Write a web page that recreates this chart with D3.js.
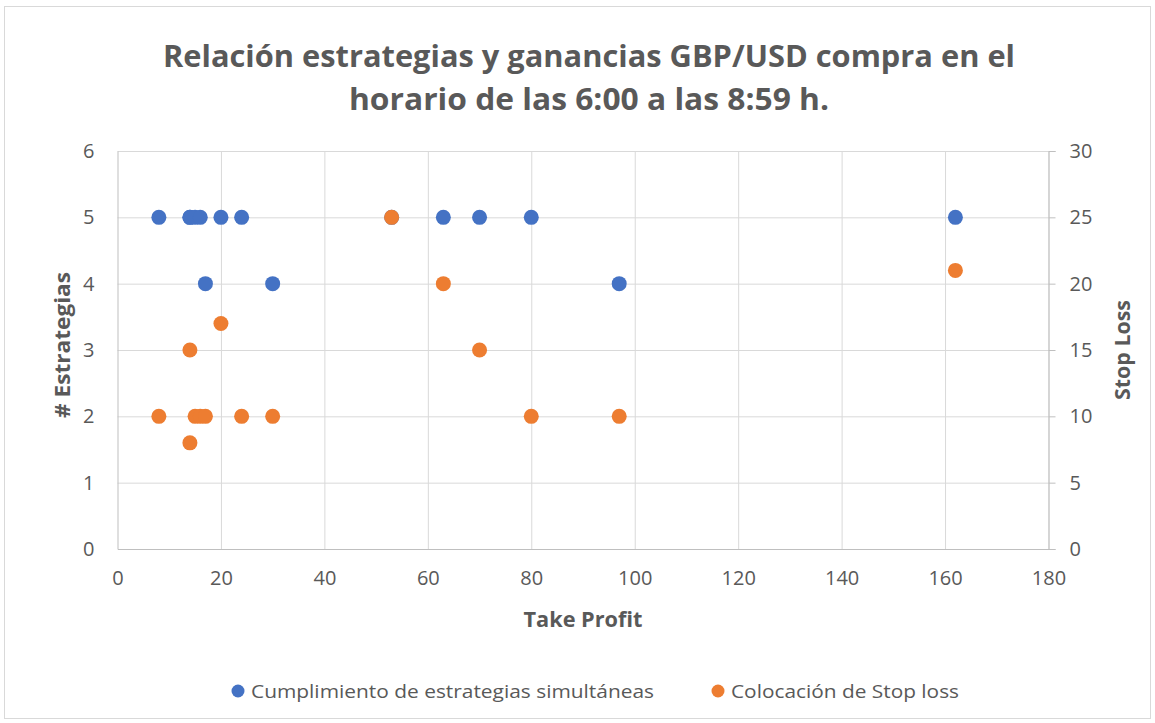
<!DOCTYPE html>
<html>
<head>
<meta charset="utf-8">
<script src="https://cdn.jsdelivr.net/npm/d3@7"></script>
<style>
  body { margin: 0; background: #fff; }
  text { font-family: "Open Sans", sans-serif; fill: #595959; }
</style>
</head>
<body>
<svg id="svg-board" width="1155" height="723"></svg>
<script>
// datos
const takeProfit  = [8, 14, 14, 15, 16, 17, 20, 24, 30, 53, 63, 70, 80, 97, 162];
const estrategias = [5, 5, 5, 5, 5, 4, 5, 5, 4, 5, 5, 5, 5, 4, 5];
const stopLoss    = [10, 15, 8, 10, 10, 10, 17, 10, 10, 25, 20, 15, 10, 10, 21];

const xTicks = [0, 20, 40, 60, 80, 100, 120, 140, 160, 180];
const yLeftTicks = [0, 1, 2, 3, 4, 5, 6];
const yRightTicks = [0, 5, 10, 15, 20, 25, 30];

const titleLines = ["Relación estrategias y ganancias GBP/USD compra en el",
                    "horario de las 6:00 a las 8:59 h."];
const seriesNames = ["Cumplimiento de estrategias simultáneas", "Colocación de Stop loss"];
const seriesColors = ["#4472C4", "#ED7D31"];

let svgBoard = d3.select("#svg-board");

const plotLeft = 117.5, plotRight = 1048.5, plotTop = 151, plotBottom = 549;

let xScale = d3.scaleLinear().domain([0, 180]).range([plotLeft, plotRight]);
let yLeft = d3.scaleLinear().domain([0, 6]).range([plotBottom, plotTop]);
let yRight = d3.scaleLinear().domain([0, 30]).range([plotBottom, plotTop]);

// marco del grafico
svgBoard.append("rect")
    .attr("x", 4.5).attr("y", 6.5)
    .attr("width", 1146).attr("height", 712)
    .attr("fill", "none")
    .attr("stroke", "#d9d9d9");

// titulo
svgBoard.selectAll("text.title")
    .data(titleLines)
    .enter()
    .append("text")
    .attr("class", "title")
    .attr("x", 589)
    .attr("y", (d, i) => 67 + i * 43)
    .attr("text-anchor", "middle")
    .attr("font-size", 31)
    .attr("font-weight", "bold")
    .attr("textLength", (d, i) => i == 0 ? 852 : 480)
    .attr("lengthAdjust", "spacingAndGlyphs")
    .text(d => d);

// cuadricula
svgBoard.append("g")
    .attr("transform", `translate(0,${plotBottom})`)
    .call(d3.axisBottom(xScale).tickValues(xTicks.slice(1)).tickSize(-(plotBottom - plotTop)).tickFormat(""))
    .call(g => g.select(".domain").remove())
    .call(g => g.selectAll("line").attr("stroke", "#d9d9d9"));

svgBoard.append("g")
    .attr("transform", `translate(${plotLeft},0)`)
    .call(d3.axisLeft(yLeft).tickValues(yLeftTicks.slice(1)).tickSize(-(plotRight - plotLeft)).tickFormat(""))
    .call(g => g.select(".domain").remove())
    .call(g => g.selectAll("line").attr("stroke", "#d9d9d9"));

// ejes
let xAxis = svgBoard.append("g")
    .attr("transform", `translate(0,${plotBottom})`)
    .call(d3.axisBottom(xScale).tickValues(xTicks).tickFormat(d3.format("d")).tickSize(0).tickPadding(22));
xAxis.select(".domain").attr("stroke", "#bfbfbf");

let yAxisLeft = svgBoard.append("g")
    .attr("transform", `translate(${plotLeft},0)`)
    .call(d3.axisLeft(yLeft).tickValues(yLeftTicks).tickFormat(d3.format("d")).tickSize(0).tickPadding(23));
yAxisLeft.select(".domain").attr("stroke", "#bfbfbf");

let yAxisRight = svgBoard.append("g")
    .attr("transform", `translate(${plotRight},0)`)
    .call(d3.axisRight(yRight).tickValues(yRightTicks).tickFormat(d3.format("d")).tickSize(7).tickSizeOuter(7).tickPadding(14));
yAxisRight.select(".domain").attr("stroke", "#bfbfbf");
yAxisRight.selectAll("line").attr("stroke", "#bfbfbf");

svgBoard.selectAll(".tick text")
    .attr("font-family", "'Open Sans', sans-serif")
    .attr("font-size", 20)
    .attr("fill", "#595959");

// titulos de ejes
svgBoard.append("text")
    .attr("x", 583).attr("y", 627)
    .attr("text-anchor", "middle")
    .attr("font-size", 21).attr("font-weight", "bold")
    .attr("textLength", 119)
    .attr("lengthAdjust", "spacingAndGlyphs")
    .text("Take Profit");

svgBoard.append("text")
    .attr("transform", "translate(70,345) rotate(-90)")
    .attr("text-anchor", "middle")
    .attr("font-size", 21).attr("font-weight", "bold")
    .attr("textLength", 146)
    .attr("lengthAdjust", "spacingAndGlyphs")
    .text("# Estrategias");

svgBoard.append("text")
    .attr("transform", "translate(1130,350) rotate(-90)")
    .attr("text-anchor", "middle")
    .attr("font-size", 21).attr("font-weight", "bold")
    .attr("textLength", 100)
    .attr("lengthAdjust", "spacingAndGlyphs")
    .text("Stop Loss");

// puntos
const points = takeProfit.map((tp, i) => ({tp: tp, est: estrategias[i], sl: stopLoss[i]}));

svgBoard.append("g").selectAll("circle")
    .data(points)
    .enter()
    .append("circle")
    .attr("cx", d => xScale(d.tp))
    .attr("cy", d => yLeft(d.est))
    .attr("r", 7.5)
    .attr("fill", seriesColors[0]);

svgBoard.append("g").selectAll("circle")
    .data(points)
    .enter()
    .append("circle")
    .attr("cx", d => xScale(d.tp))
    .attr("cy", d => yRight(d.sl))
    .attr("r", 7.5)
    .attr("fill", seriesColors[1]);

// leyenda
const legendX = [238, 718];
let legend = svgBoard.selectAll("g.legend")
    .data(seriesNames)
    .enter()
    .append("g")
    .attr("class", "legend")
    .attr("transform", (d, i) => `translate(${legendX[i]},691)`);

legend.append("circle")
    .attr("r", 6.5)
    .attr("fill", (d, i) => seriesColors[i]);

legend.append("text")
    .attr("x", 13)
    .attr("y", 7)
    .attr("font-size", 19)
    .attr("textLength", (d, i) => i == 0 ? 403 : 228)
    .attr("lengthAdjust", "spacingAndGlyphs")
    .text(d => d);
</script>
</body>
</html>
